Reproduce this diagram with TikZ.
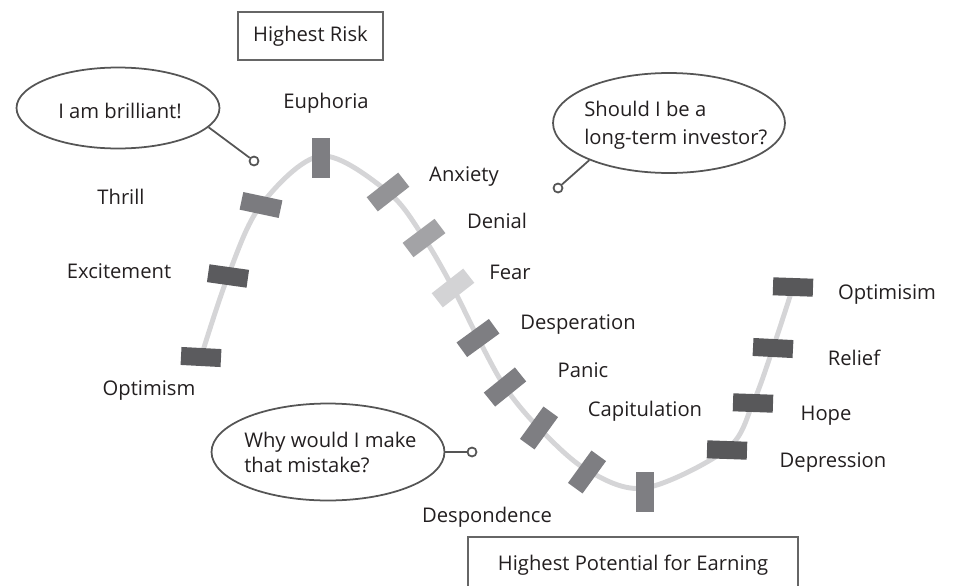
\documentclass[tikz,border=0pt]{standalone}
\usepackage{fontspec}
\setmainfont{Open Sans}
\usetikzlibrary{shapes.geometric}
\definecolor{ink}{HTML}{231F20}
\definecolor{rope}{HTML}{D5D5D7}
\definecolor{edge}{HTML}{555555}
\definecolor{barA}{HTML}{5B5B5E}
\definecolor{barB}{HTML}{7B7B7F}
\definecolor{barC}{HTML}{939396}
\definecolor{barD}{HTML}{A3A3A6}
\definecolor{barE}{HTML}{D3D3D5}
\definecolor{barF}{HTML}{7E7E82}
\definecolor{barG}{HTML}{58585A}
\begin{document}
\begin{tikzpicture}[x=0.02cm,y=-0.02cm,
  font=\fontsize{11.5}{15.5}\selectfont,
  bar/.style={rectangle, minimum width=0.8cm, minimum height=0.36cm, inner sep=0pt},
  lbl/.style={text=ink, inner sep=0pt, anchor=base},
  bubble/.style={ellipse, draw=edge, line width=1pt, inner sep=0pt},
  dot/.style={circle, draw=edge, line width=1pt, fill=white, minimum size=0.18cm, inner sep=0pt},
  frame/.style={rectangle, draw=edge!90, line width=1.2pt, text=ink, inner sep=0pt}]
\clip (0,0) rectangle (956,585);
% the cycle line
\draw[rope, line width=2.8pt, line cap=round] plot[smooth, tension=0.55] coordinates {
  (201,357) (228,276) (261,205) (321,156) (388,192) (424,238) (453,288) (478,338)
  (505,387) (539,428) (587,470) (645,488) (727,449) (753,403) (773,348) (793,287)};
% markers on the line
\foreach \i/\x/\y/\r/\c in {0/201/357/-3/barA, 1/228/276/-8/barA, 2/261/205/-12/barB,
  3/321/158/90/barF, 4/388/192/38/barC, 5/424/238/37/barD, 6/453/288/38/barE,
  7/478/338/36/barF, 8/505/387/39/barF, 9/539/428/54/barF, 10/587/472/54/barF,
  11/645/492/90/barF, 12/727/450/-2/barG, 13/753/403/-2/barG, 14/773/348/-3/barG,
  15/793/287/-2/barG}
  \node[bar, rotate=\r, fill=\c] (b\i) at (\x,\y) {};
% stage names
\node[lbl] (t0) at (149,395) {Optimism};
\node[lbl] (t1) at (119,278) {Excitement};
\node[lbl] (t2) at (121,204) {Thrill};
\node[lbl] (t3) at (326,108) {Euphoria};
\node[lbl] (t4) at (464,181) {Anxiety};
\node[lbl] (t5) at (497,228) {Denial};
\node[lbl] (t6) at (510,279) {Fear};
\node[lbl] (t7) at (578,329) {Desperation};
\node[lbl] (t8) at (583,377) {Panic};
\node[lbl] (t9) at (645,416) {Capitulation};
\node[lbl] (t10) at (487,522) {Despondence};
\node[lbl] (t12) at (833,467) {Depression};
\node[lbl] (t13) at (826,420) {Hope};
\node[lbl] (t14) at (854,365) {Relief};
\node[lbl] (t15) at (887,299) {Optimisim};
% boxes
\node[frame, minimum width=2.9cm, minimum height=0.96cm] (risk) at (310.5,36) {Highest Risk};
\node[frame, minimum width=6.6cm, minimum height=1.12cm] (earn) at (633,565) {Highest Potential for Earning};
% thought bubbles
\node[bubble, minimum width=4.06cm, minimum height=1.62cm] (brill) at (118,108) {};
\node[bubble, minimum width=4.64cm, minimum height=2cm] (invest) at (669,123) {};
\node[bubble, minimum width=4.66cm, minimum height=1.94cm] (mistake) at (328,452) {};
\node[lbl] (brillT) at (120,118) {I am brilliant!};
\node[lbl, anchor=base west] (investT1) at (584,116) {Should I be a};
\node[lbl, anchor=base west] (investT2) at (584,144) {long-term investor?};
\node[lbl, anchor=base west] (mistakeT1) at (244,447) {Why would I make};
\node[lbl, anchor=base west] (mistakeT2) at (244,472) {that mistake?};
\node[dot] (pA) at (254,161) {};
\node[dot] (pB) at (558,188) {};
\node[dot] (pC) at (472,452) {};
\draw[edge, line width=1pt] (brill.-12) -- (pA);
\draw[edge, line width=1pt] (invest.-155) -- (pB);
\draw[edge, line width=1pt] (mistake.0) -- (pC);
\end{tikzpicture}
\end{document}
